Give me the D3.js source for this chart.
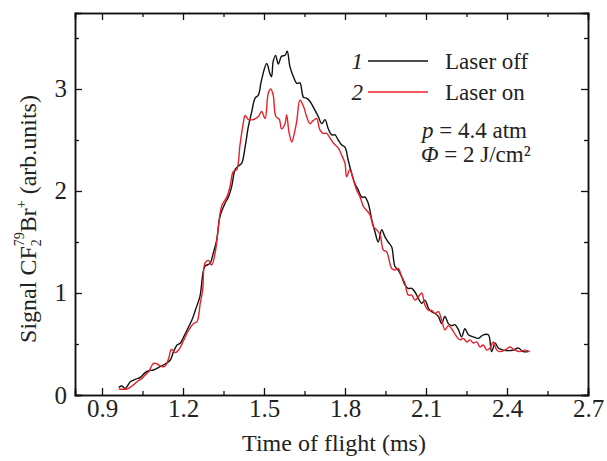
<!DOCTYPE html>
<html><head><meta charset="utf-8">
<script src="https://cdn.jsdelivr.net/npm/d3@7"></script>
<style>
html,body{margin:0;padding:0;background:#fff;}
svg{display:block;font-family:"Liberation Serif","Times New Roman",serif;}
</style></head>
<body><svg id="c" width="607" height="461"></svg>
<script>
// ---- data ----
const timeOff = [0.962,0.974,0.986,1.005,1.023,1.042,1.060,1.073,1.091,1.110,1.134,1.153,1.165,1.178,1.190,1.203,1.215,1.233,1.246,1.263,1.281,1.300,1.312,1.325,1.337,1.356,1.368,1.380,1.393,1.405,1.417,1.430,1.442,1.454,1.467,1.479,1.491,1.510,1.522,1.528,1.534,1.543,1.553,1.565,1.578,1.586,1.596,1.609,1.621,1.633,1.646,1.658,1.670,1.685,1.701,1.714,1.726,1.738,1.751,1.763,1.775,1.788,1.800,1.812,1.825,1.837,1.849,1.862,1.874,1.886,1.899,1.911,1.923,1.936,1.948,1.960,1.973,1.985,1.997,2.010,2.022,2.034,2.047,2.059,2.071,2.084,2.096,2.109,2.121,2.133,2.146,2.158,2.170,2.183,2.195,2.207,2.220,2.232,2.244,2.257,2.275,2.294,2.312,2.331,2.343,2.356,2.368,2.386,2.405,2.423,2.442,2.460,2.479];
const signalOff = [0.075,0.088,0.065,0.13,0.154,0.173,0.219,0.238,0.245,0.271,0.304,0.343,0.425,0.49,0.507,0.572,0.637,0.735,0.833,0.97,1.26,1.29,1.39,1.52,1.75,1.88,1.94,2.04,2.21,2.245,2.27,2.43,2.63,2.77,2.91,2.94,3.09,3.25,3.15,3.12,3.27,3.33,3.245,3.32,3.33,3.37,3.22,3.12,3.055,3.06,2.92,2.91,2.88,2.81,2.73,2.66,2.70,2.61,2.55,2.55,2.50,2.45,2.43,2.30,2.17,2.07,2.01,1.94,1.94,1.88,1.72,1.60,1.50,1.62,1.55,1.50,1.45,1.26,1.225,1.16,1.08,1.045,1.045,1.01,0.95,0.90,0.93,0.85,0.817,0.80,0.77,0.70,0.77,0.70,0.68,0.69,0.64,0.57,0.65,0.59,0.57,0.555,0.59,0.59,0.425,0.51,0.46,0.44,0.435,0.44,0.46,0.425,0.425];
const timeOn = [0.962,0.993,1.011,1.030,1.048,1.060,1.073,1.091,1.104,1.122,1.134,1.147,1.157,1.171,1.184,1.203,1.221,1.240,1.252,1.264,1.273,1.281,1.294,1.306,1.319,1.331,1.343,1.362,1.374,1.386,1.399,1.411,1.423,1.430,1.442,1.460,1.479,1.491,1.504,1.516,1.525,1.534,1.544,1.557,1.565,1.578,1.584,1.593,1.603,1.611,1.621,1.633,1.646,1.658,1.670,1.682,1.695,1.707,1.720,1.732,1.744,1.757,1.775,1.788,1.800,1.806,1.818,1.831,1.843,1.856,1.868,1.880,1.893,1.905,1.917,1.930,1.942,1.954,1.973,1.985,1.997,2.010,2.022,2.034,2.047,2.059,2.071,2.084,2.096,2.109,2.121,2.133,2.146,2.158,2.170,2.183,2.195,2.214,2.226,2.238,2.251,2.263,2.275,2.288,2.300,2.312,2.325,2.337,2.349,2.362,2.374,2.392,2.411,2.429,2.448,2.466,2.485];
const signalOn = [0.059,0.059,0.088,0.13,0.163,0.196,0.229,0.31,0.304,0.278,0.284,0.36,0.448,0.415,0.441,0.539,0.637,0.703,0.72,0.90,1.03,1.29,1.32,1.275,1.39,1.65,1.85,1.94,2.04,2.19,2.21,2.45,2.66,2.74,2.70,2.70,2.73,2.78,2.71,2.96,3.00,2.94,2.73,2.70,2.61,2.66,2.745,2.57,2.48,2.55,2.68,2.89,2.83,2.73,2.66,2.69,2.71,2.60,2.565,2.565,2.52,2.47,2.42,2.35,2.27,2.14,2.21,2.11,2.01,1.94,1.85,1.81,1.765,1.65,1.62,1.57,1.42,1.405,1.24,1.225,1.24,1.16,1.095,0.98,0.98,0.93,0.96,1.0,0.88,0.83,0.83,0.80,0.817,0.735,0.64,0.68,0.65,0.57,0.54,0.555,0.52,0.54,0.51,0.52,0.47,0.49,0.44,0.46,0.52,0.44,0.425,0.44,0.47,0.44,0.425,0.44,0.425];
const xMajorTicks = [0.9,1.2,1.5,1.8,2.1,2.4,2.7];
const xMinorTicks = [1.05,1.35,1.65,1.95,2.25,2.55];
const yMajorTicks = [0,1,2,3];
const yMinorTicks = [0.5,1.5,2.5,3.5];
const seriesNames = ["Laser off","Laser on"];
const seriesNumbers = ["1","2"];
const seriesColors = ["#111111","#e8202a"];

// ---- drawing ----
const svg = d3.select("#c");
const L=75,R=588,T=13,B=395;
const x = d3.scaleLinear().domain([0.8,2.7]).range([L,R]);
const y = d3.scaleLinear().domain([0,3.745]).range([B,T]);
const FS = 23, TICKFS = 25, TITLEFS = 24;
const FONT = "Liberation Serif";

function axisStyle(g){
  g.select(".domain").attr("stroke","#111").attr("stroke-width",1.5);
  g.selectAll(".tick line").attr("stroke","#111").attr("stroke-width",1.3);
}
// minor ticks
svg.append("g").attr("transform",`translate(0,${B})`).call(d3.axisBottom(x).tickValues(xMinorTicks).tickSize(-4).tickFormat("")).call(axisStyle);
svg.append("g").attr("transform",`translate(0,${T})`).call(d3.axisTop(x).tickValues(xMinorTicks).tickSize(-4).tickFormat("")).call(axisStyle);
svg.append("g").attr("transform",`translate(${L},0)`).call(d3.axisLeft(y).tickValues(yMinorTicks).tickSize(-4).tickFormat("")).call(axisStyle);
svg.append("g").attr("transform",`translate(${R},0)`).call(d3.axisRight(y).tickValues(yMinorTicks).tickSize(-4).tickFormat("")).call(axisStyle);
// major ticks
svg.append("g").attr("transform",`translate(0,${B})`).call(d3.axisBottom(x).tickValues(xMajorTicks).tickSize(-7).tickPadding(4).tickFormat(d3.format(".1f"))).call(axisStyle);
svg.append("g").attr("transform",`translate(0,${T})`).call(d3.axisTop(x).tickValues(xMajorTicks).tickSize(-7).tickFormat("")).call(axisStyle);
svg.append("g").attr("transform",`translate(${L},0)`).call(d3.axisLeft(y).tickValues(yMajorTicks).tickSize(-7).tickPadding(8).tickFormat(d3.format("d"))).call(axisStyle);
svg.append("g").attr("transform",`translate(${R},0)`).call(d3.axisRight(y).tickValues(yMajorTicks).tickSize(-7).tickFormat("")).call(axisStyle);
svg.selectAll(".tick text").attr("font-family",FONT).attr("font-size",TICKFS).attr("fill","#222");

// lines
const line = d3.line().x(d=>x(d[0])).y(d=>y(d[1])).curve(d3.curveCatmullRom.alpha(0.5));
const dataOff = timeOff.map((t,i)=>[t,signalOff[i]]);
const dataOn = timeOn.map((t,i)=>[t,signalOn[i]]);
svg.append("path").datum(dataOff).attr("d",line).attr("fill","none").attr("stroke",seriesColors[0]).attr("stroke-width",1.4);
svg.append("path").datum(dataOn).attr("d",line).attr("fill","none").attr("stroke",seriesColors[1]).attr("stroke-width",1.4);

function txt(xp,yp,anchor,fs){
  return svg.append("text").attr("x",xp).attr("y",yp).attr("text-anchor",anchor||"start")
    .attr("font-family",FONT).attr("font-size",fs||FS).attr("fill","#222");
}
// x title
txt(334,451,"middle",TITLEFS).text("Time of flight (ms)");
// y title
const yt = svg.append("text").attr("transform","translate(36,219) rotate(-90)")
  .attr("text-anchor","middle").attr("font-family",FONT).attr("font-size",TITLEFS).attr("fill","#222");
yt.append("tspan").text("Signal CF");
yt.append("tspan").attr("font-size",14).attr("dy",5).text("2");
yt.append("tspan").attr("font-size",14).attr("dx",-7).attr("dy",-17).text("79");
yt.append("tspan").attr("dy",12).text("Br");
yt.append("tspan").attr("font-size",14).attr("dy",-10).text("+");
yt.append("tspan").attr("dy",10).text(" (arb.units)");

// legend
const legRows=[61,92];
seriesNames.forEach((n,i)=>{
  txt(363,legRows[i]+8,"end").attr("font-style","italic").text(seriesNumbers[i]);
  svg.append("line").attr("x1",368).attr("x2",428).attr("y1",legRows[i]).attr("y2",legRows[i]).attr("stroke",seriesColors[i]).attr("stroke-width",1.3);
  txt(445,legRows[i]+8,"start").text(n);
});
const p = txt(422,138,"start");
p.append("tspan").attr("font-style","italic").text("p");
p.append("tspan").text(" = 4.4 atm");
const f = txt(421,162,"start");
f.append("tspan").attr("font-style","italic").text("Φ");
f.append("tspan").text(" = 2 J/cm²");
</script></body></html>
